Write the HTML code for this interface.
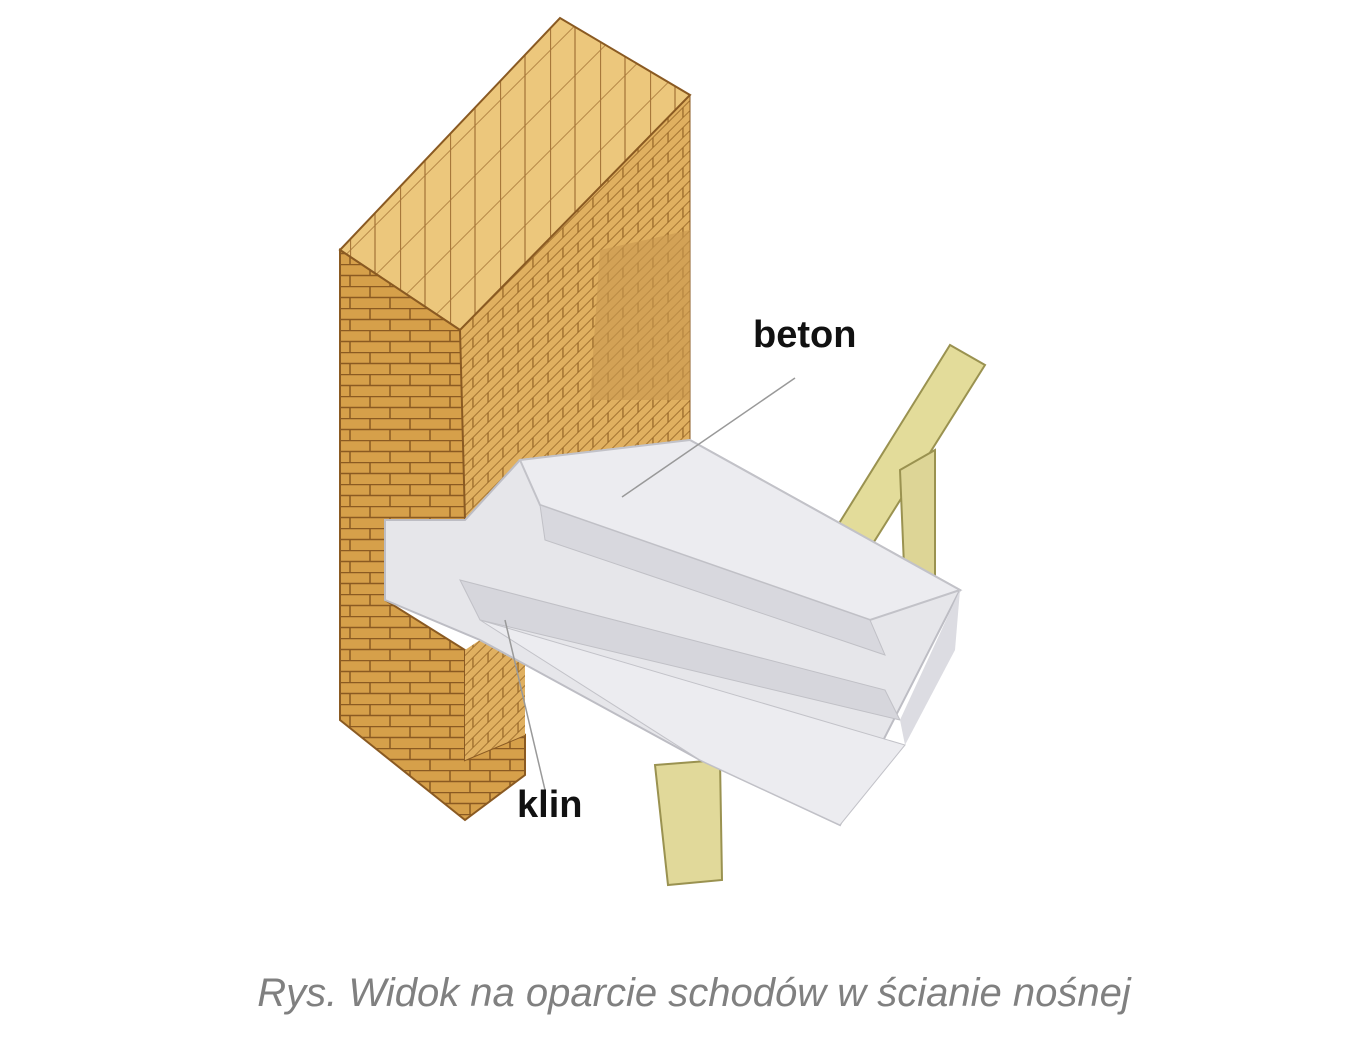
<!DOCTYPE html>
<html><head><meta charset="utf-8"><style>
html,body{margin:0;padding:0;background:#fff;}
svg{display:block}
</style></head><body>
<svg width="1369" height="1055" viewBox="0 0 1369 1055" xmlns="http://www.w3.org/2000/svg">
<defs>
<pattern id="brick" width="40" height="22" patternUnits="userSpaceOnUse">
<rect width="40" height="22" fill="#d6a04a"/>
<path d="M0 0.5H40M0 11.5H40M10 0V11M30 11V22" stroke="#8a5a22" stroke-width="1.5" fill="none"/>
</pattern>
<pattern id="brick2" width="30" height="20" patternUnits="userSpaceOnUse" patternTransform="skewY(-45)">
<rect width="30" height="20" fill="#e0b060"/>
<path d="M0 0.5H30M0 10.5H30M8 0V10M23 10V20" stroke="#9a6a2a" stroke-width="1.3" fill="none"/>
</pattern>
<pattern id="top" width="50" height="50" patternUnits="userSpaceOnUse" patternTransform="skewY(-45)">
<rect width="50" height="50" fill="#ecc77c"/>
<path d="M0 0.5H50M0.5 0V50M25 0V50" stroke="#a8783a" stroke-width="1.3" fill="none"/>
</pattern>
</defs>
<polygon points="838,525 950,345 985,365 872,545" fill="#e3dc9a" stroke="#9a9250" stroke-width="2"/>
<polygon points="900,470 935,450 935,585 905,590" fill="#ddd596" stroke="#9a9250" stroke-width="2"/>
<polygon points="655,765 720,760 722,880 668,885" fill="#e1d99a" stroke="#9a9250" stroke-width="2"/>
<polygon points="460,330 690,95 690,440 600,470 520,460 465,520" fill="url(#brick2)" stroke="#8a5a22"/>
<polygon points="600,250 690,230 690,400 590,400" fill="#c99a50" opacity="0.6"/>
<polygon points="340,250 560,18 690,95 460,330" fill="url(#top)" stroke="#8a5a22" stroke-width="2"/>
<path d="M340,250 L460,330 L465,520 L385,520 L385,600 L465,650 L465,760 L525,735 L525,775 L465,820 L340,720 Z" fill="url(#brick)" stroke="#8a5a22" stroke-width="2"/>
<polygon points="465,650 525,610 525,735 465,760" fill="url(#brick2)"/>
<polygon points="520,460 690,440 960,590 840,825 700,760 480,640 385,600 385,520 465,520" fill="#e6e6ea" stroke="#bdbdc4" stroke-width="2"/>
<polygon points="520,460 690,440 960,590 870,620 540,505" fill="#ececf0" stroke="#c2c2c8" stroke-width="2"/>
<polygon points="540,505 870,620 885,655 545,540" fill="#d8d8de" stroke="#c0c0c6"/>
<polygon points="460,580 885,690 900,720 480,620" fill="#d6d6dc" stroke="#c0c0c6"/>
<polygon points="900,720 960,590 955,650 905,745" fill="#dcdce2"/>
<polygon points="480,620 905,745 840,825 700,760" fill="#ececf0" stroke="#c2c2c8"/>
<line x1="795" y1="378" x2="622" y2="497" stroke="#999" stroke-width="1.5"/>
<line x1="545" y1="790" x2="505" y2="620" stroke="#999" stroke-width="1.5"/>
<text x="753" y="347" font-family="Liberation Sans, sans-serif" font-weight="bold" font-size="38" fill="#111">beton</text>
<text x="517" y="817" font-family="Liberation Sans, sans-serif" font-weight="bold" font-size="38" fill="#111">klin</text>
<text x="694" y="1006" text-anchor="middle" font-family="Liberation Sans, sans-serif" font-style="italic" font-size="40" fill="#808080">Rys. Widok na oparcie schodów w ścianie nośnej</text>
</svg>
</body></html>
